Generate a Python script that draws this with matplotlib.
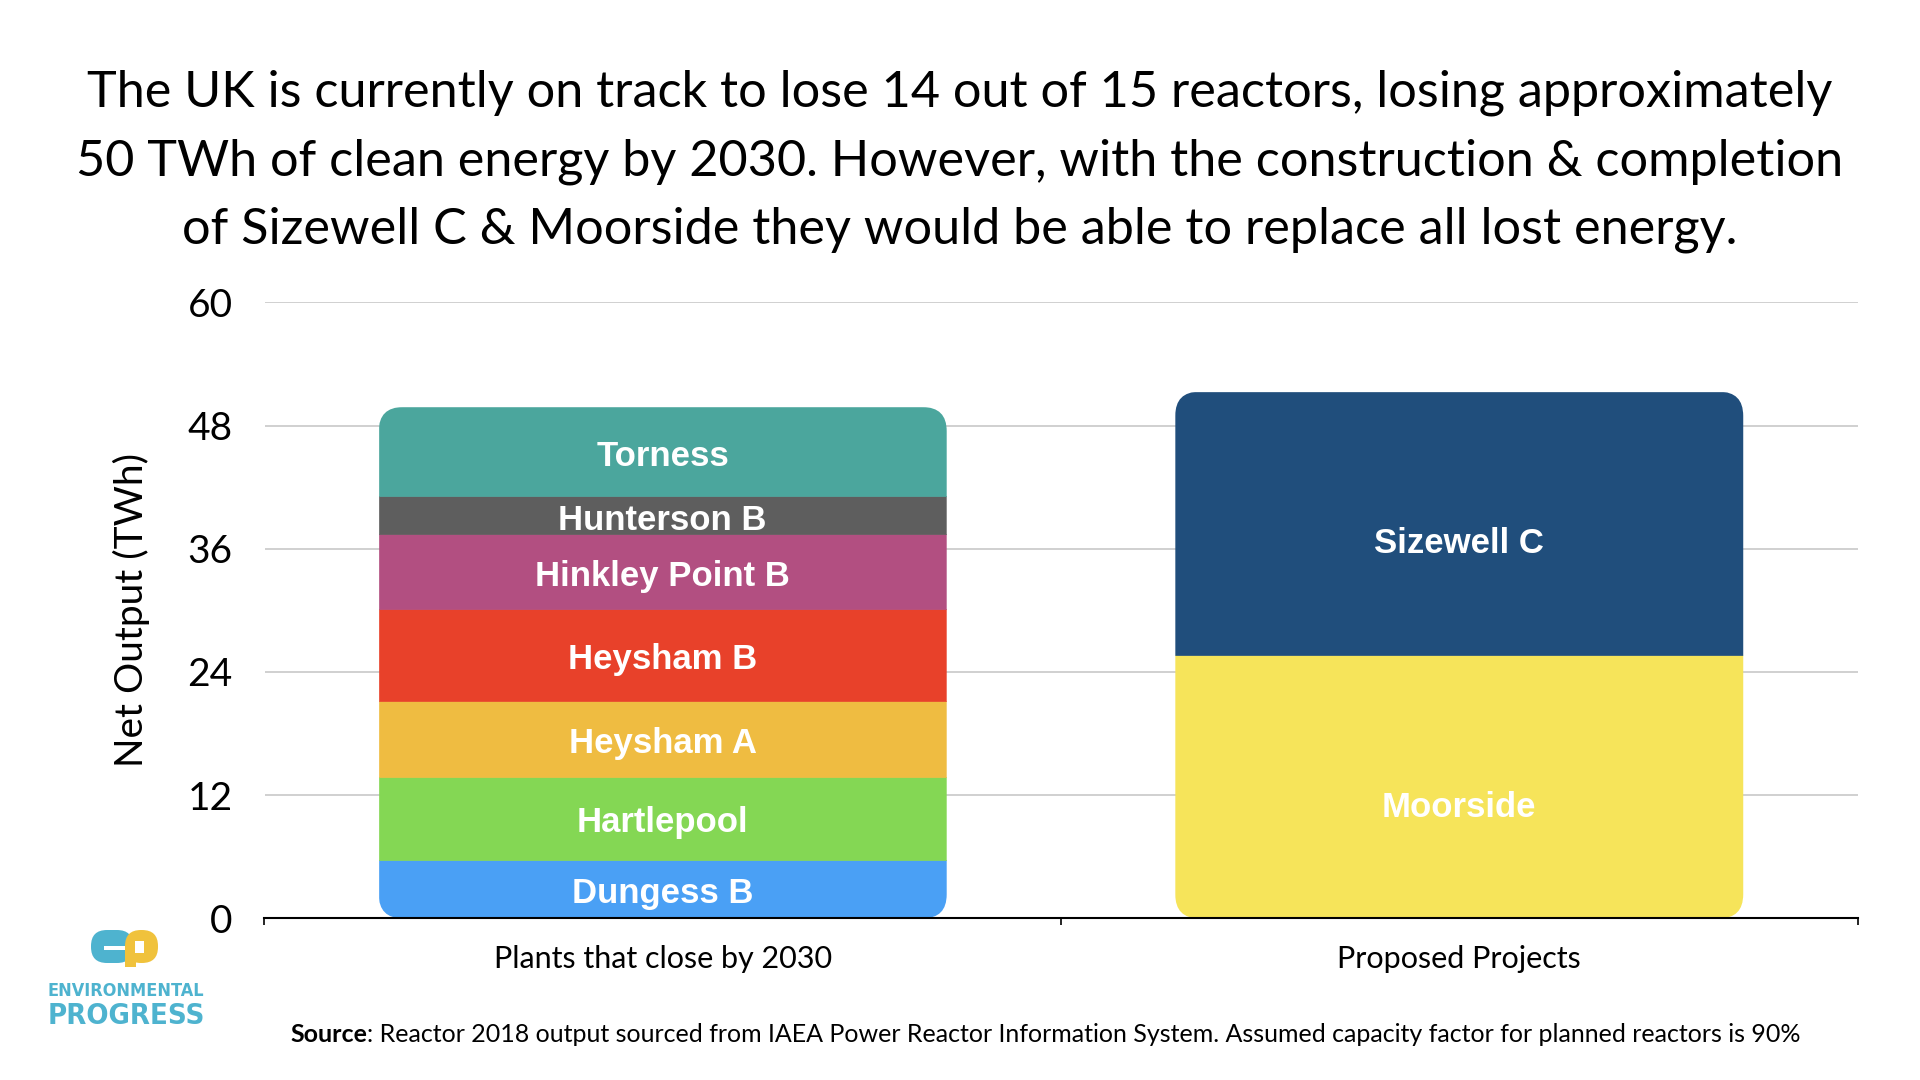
import matplotlib
matplotlib.use("Agg")
import matplotlib.pyplot as plt
from matplotlib.patches import FancyBboxPatch, Rectangle
from matplotlib.transforms import IdentityTransform

# ---- data ----
categories = ["Plants that close by 2030", "Proposed Projects"]

closing_plants = ["Dungess B", "Hartlepool", "Heysham A", "Heysham B",
                  "Hinkley Point B", "Hunterson B", "Torness"]
closing_twh = [5.7, 8.1, 7.4, 8.9, 7.3, 3.7, 8.7]
closing_colors = ["#4AA0F5", "#84D754", "#EFBC41", "#E8412A",
                  "#B24F81", "#5E5E5E", "#4BA69D"]

proposed_plants = ["Moorside", "Sizewell C"]
proposed_twh = [25.7, 25.6]
proposed_colors = ["#F6E45A", "#204E7C"]

yticks = [0, 12, 24, 36, 48, 60]

title_lines = [
    "The UK is currently on track to lose 14 out of 15 reactors, losing approximately",
    "50 TWh of clean energy by 2030. However, with the construction & completion",
    "of Sizewell C & Moorside they would be able to replace all lost energy.",
]
source_note = (": Reactor 2018 output sourced from IAEA Power Reactor Information System. "
               "Assumed capacity factor for planned reactors is 90%")

W, H = 1920, 1080
fig = plt.figure(figsize=(W / 100, H / 100), dpi=100)
ax = fig.add_axes([264.5 / W, 1 - 918.4 / H, 1593 / W, 616 / H])
ax.set_xlim(-0.5, 1.5)
ax.set_ylim(0, 60)

bar_w = 0.713


def stacked_bar(x, names, values, colors, label_dy=0.0):
    bottom = 0.0
    rects = []
    for name, v, c in zip(names, values, colors):
        r = ax.bar(x, v, bar_w, bottom=bottom, color=c, edgecolor=c,
                   linewidth=0.5, zorder=3)[0]
        rects.append(r)
        ax.text(x, bottom + v / 2 + label_dy, name, ha="center", va="center",
                color="white", fontsize=25, fontweight="bold",
                family="Liberation Sans", zorder=4)
        bottom += v
    # round the outer corners of the whole stack
    (x0, y0), (x1, y1) = ax.transData.transform([(x - bar_w / 2, 0), (x + bar_w / 2, bottom)])
    clip = FancyBboxPatch((x0, y0), x1 - x0, y1 - y0,
                          boxstyle="round,pad=0,rounding_size=24",
                          transform=IdentityTransform())
    for r in rects:
        r.set_clip_path(clip)


stacked_bar(0, closing_plants, closing_twh, closing_colors, label_dy=-0.45)
stacked_bar(1, proposed_plants, proposed_twh, proposed_colors, label_dy=-2.0)

# axes styling
for s in ["left", "right", "top"]:
    ax.spines[s].set_visible(False)
ax.spines["bottom"].set_linewidth(1.5)
ax.spines["bottom"].set_zorder(5)
ax.grid(axis="y", color="#C8C8C8", linewidth=1.2)
ax.set_axisbelow(True)

ax.set_yticks(yticks)
ax.set_yticklabels([str(t) for t in yticks], fontsize=28, family="Lato")
ax.tick_params(axis="y", length=0, pad=23)
ax.set_xticks([0, 1])
ax.set_xticklabels(categories, fontsize=22, family="Lato")
ax.tick_params(axis="x", which="major", length=0, pad=19)
ax.set_xticks([-0.5, 0.5, 1.5], minor=True)
ax.tick_params(axis="x", which="minor", length=5, width=1.2, direction="out")

ax.set_ylabel("Net Output (TWh)", fontsize=28, family="Lato")
ax.yaxis.set_label_coords(-0.072, 0.5)

# title
for i, line in enumerate(title_lines):
    fig.text(0.5, 1 - (93 + i * 68.5) / H, line, ha="center", va="center",
             fontsize=36.3, family="Lato")

# source line
src = fig.text(290 / W, 1 - 1034.5 / H, "Source", ha="left", va="center",
               fontsize=18, fontweight="bold", family="Lato")
ax.annotate(source_note, xy=(1, 0), xycoords=src, ha="left", va="bottom",
            fontsize=18, family="Lato", annotation_clip=False)

# Environmental Progress logo
logo_blue = "#4EB3CF"
logo_yellow = "#F0C23C"
fig.add_artist(FancyBboxPatch((91, 117), 42, 33, boxstyle="round,pad=0,rounding_size=16",
                              facecolor=logo_blue, edgecolor="none", transform=IdentityTransform()))
fig.add_artist(FancyBboxPatch((125, 117), 33, 33, boxstyle="round,pad=0,rounding_size=16",
                              facecolor=logo_yellow, edgecolor="none", transform=IdentityTransform()))
fig.add_artist(Rectangle((125, 113), 11, 20, facecolor=logo_yellow, edgecolor="none",
                         transform=IdentityTransform()))
fig.add_artist(Rectangle((104, 130), 21, 4, facecolor="white", edgecolor="none",
                         transform=IdentityTransform()))
fig.add_artist(Rectangle((135, 127), 9, 12, facecolor="white", edgecolor="none",
                         transform=IdentityTransform()))
fig.text(126 / W, 1 - 990.5 / H, "ENVIRONMENTAL", ha="center", va="center",
         fontsize=13, fontweight="bold", fontstretch="condensed",
         family=["Liberation Sans Narrow", "DejaVu Sans"], color=logo_blue)
fig.text(126 / W, 1 - 1016.5 / H, "PROGRESS", ha="center", va="center",
         fontsize=21, fontweight="bold", fontstretch="condensed",
         family=["Liberation Sans Narrow", "DejaVu Sans"], color=logo_blue)

fig.savefig("out.png", dpi=100)
